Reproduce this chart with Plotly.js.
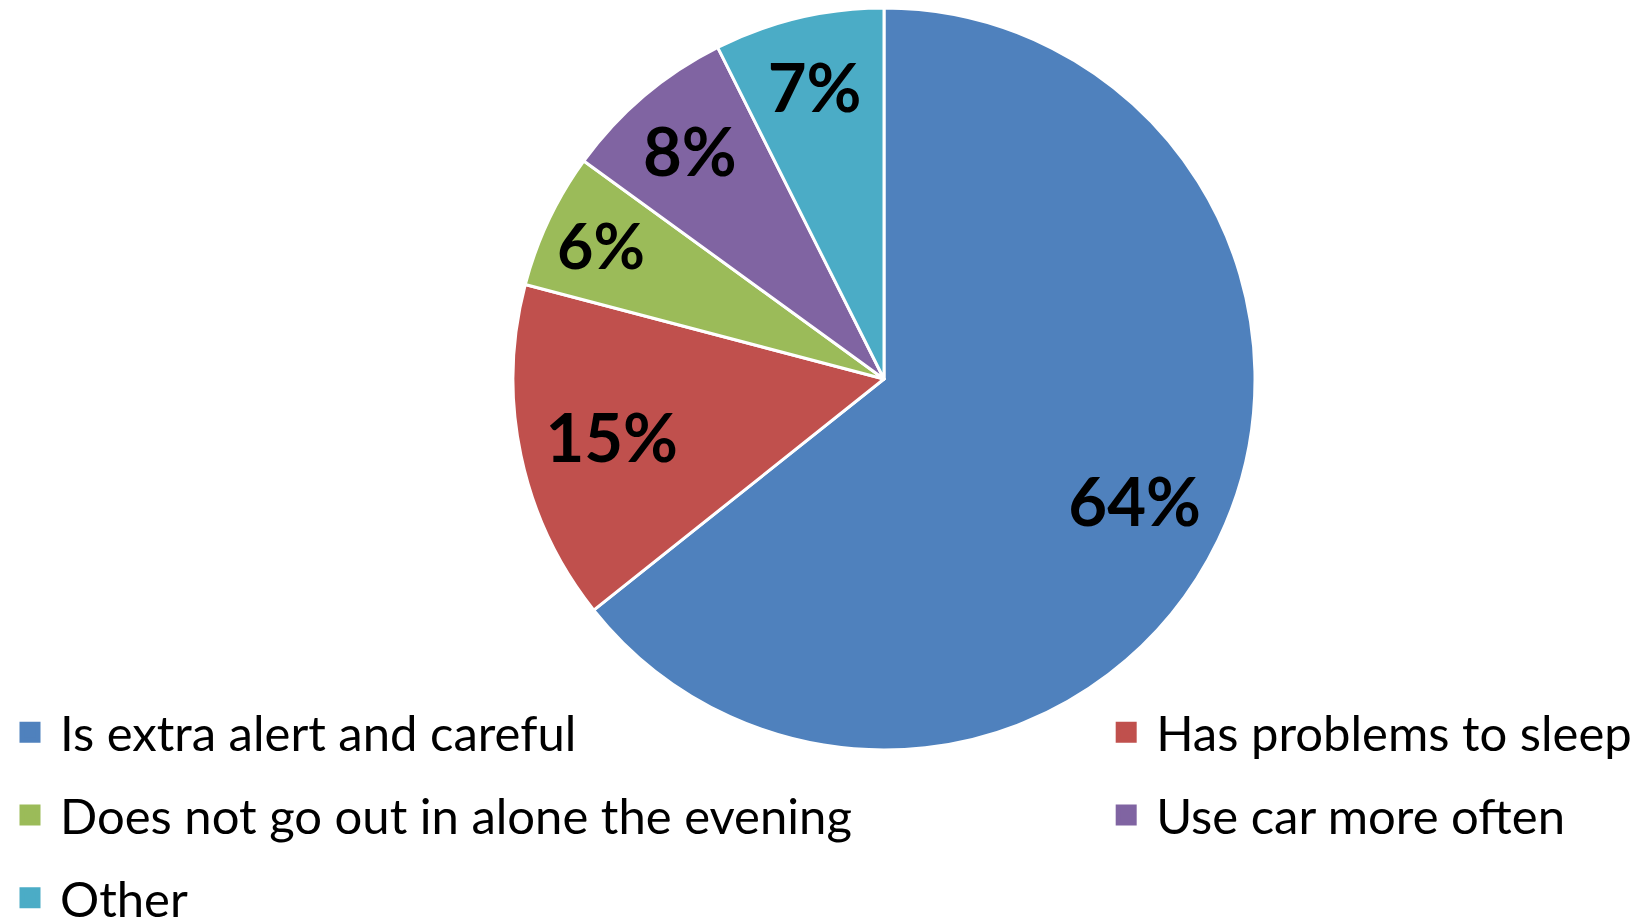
<!DOCTYPE html>
<html>
<head>
<meta charset="utf-8">
<script src="https://cdn.plot.ly/plotly-3.0.1.min.js"></script>
<style>html,body{margin:0;padding:0;background:#fff;}#chart{width:1641px;height:923px;}</style>
</head>
<body>
<div id="chart"></div>
<script>
const labels = ["Is extra alert and careful", "Has problems to sleep", "Does not go out in alone the evening", "Use car more often", "Other"];
const values = [64.3, 14.8, 5.9, 7.6, 7.4];
const colors = ["#4F81BD", "#C0504D", "#9BBB59", "#8064A2", "#4BACC6"];
const legendColumn = ["legend", "legend2", "legend", "legend2", "legend"];

const pieDomain = {x: [0.3126, 0.7648], y: [0.1874, 0.9913]};

// filled slices
const pie = {
  type: "pie",
  labels: labels,
  values: values,
  sort: false,
  direction: "clockwise",
  rotation: 0,
  marker: {colors: colors, line: {color: "#ffffff", width: 3}},
  textinfo: "none",
  domain: pieDomain,
  showlegend: false,
  hoverinfo: "none"
};

// same slices, transparent, used only to place the percentage labels in the outer ring
const pieLabels = {
  type: "pie",
  labels: labels,
  values: values,
  sort: false,
  direction: "clockwise",
  rotation: 0,
  hole: 0.5,
  marker: {colors: labels.map(() => "rgba(0,0,0,0)"), line: {width: 0}},
  texttemplate: "%{percent:.0%}",
  textposition: "inside",
  insidetextorientation: "horizontal",
  textfont: {family: "Lato, sans-serif", size: 67, color: "#000000", weight: "bold"},
  domain: pieDomain,
  showlegend: false,
  hoverinfo: "none"
};

const legendTraces = labels.map((lab, i) => ({
  type: "scatter",
  mode: "markers",
  x: [null],
  y: [null],
  name: lab,
  legend: legendColumn[i],
  legendgroup: "g" + i,
  marker: {symbol: "square", size: 16, color: colors[i], line: {color: colors[i], width: 5}},
  hoverinfo: "none"
}));

const legendCommon = {
  orientation: "v",
  xanchor: "left",
  yanchor: "top",
  itemwidth: 50,
  tracegroupgap: 16,
  traceorder: "grouped",
  bgcolor: "rgba(0,0,0,0)",
  borderwidth: 0,
  font: {family: "Lato, sans-serif", size: 49, color: "#000000"},
  itemclick: false,
  itemdoubleclick: false
};

const layout = {
  width: 1641,
  height: 923,
  margin: {l: 0, r: 0, t: 0, b: 0, autoexpand: false},
  paper_bgcolor: "#ffffff",
  plot_bgcolor: "#ffffff",
  xaxis: {visible: false},
  yaxis: {visible: false},
  hovermode: false,
  showlegend: true,
  legend: Object.assign({}, legendCommon, {x: 0, y: 0.2481}),
  legend2: Object.assign({}, legendCommon, {x: 0.668, y: 0.2481})
};

Plotly.newPlot("chart", [pie, pieLabels].concat(legendTraces), layout, {displayModeBar: false, staticPlot: true});
</script>
</body>
</html>
